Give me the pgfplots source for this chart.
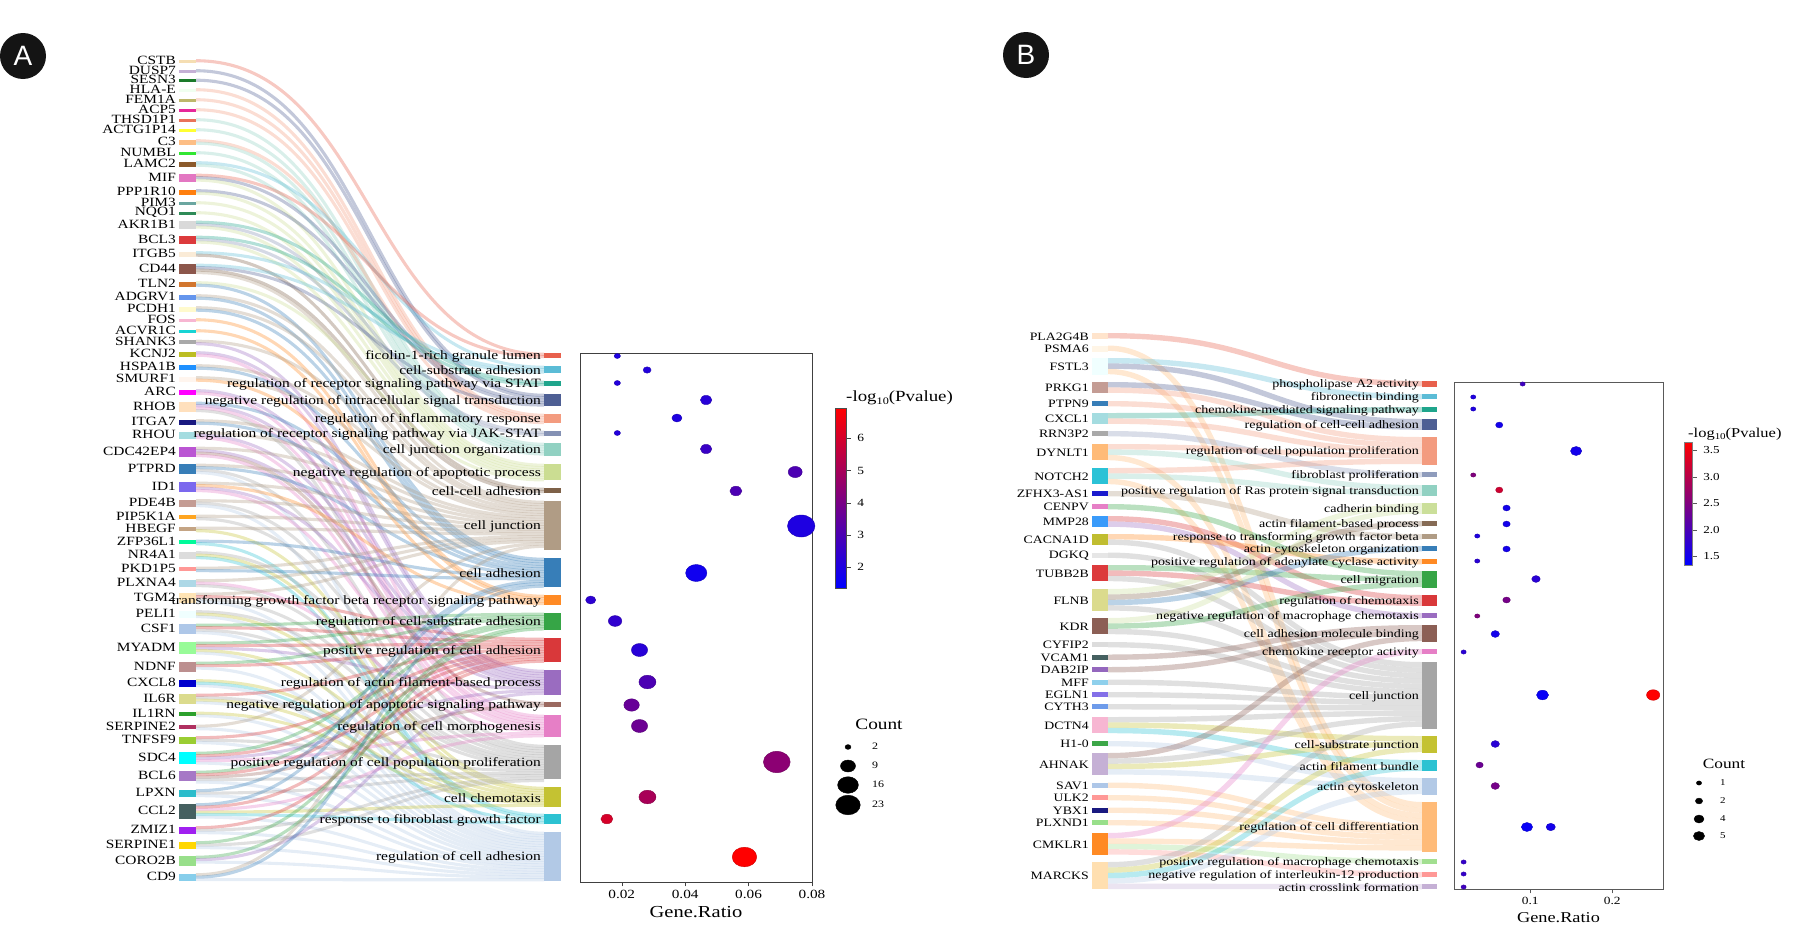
\documentclass[border=0pt]{standalone}
\usepackage{fontspec}
\usepackage{pgfplots}
\pgfplotsset{compat=1.18}
\setmainfont[FakeStretch=1.22]{Liberation Serif}
\newfontfamily\badgefont{Liberation Sans}
\pgfplotsset{colormap={bwr}{rgb255=(0,0,255) rgb255=(255,0,0)}}
\pgfplotsset{/pgf/number format/assume math mode=true}

% two-point plot handler: horizontal tangents at both ends (sankey link)
\makeatletter
\newif\ifribfirst
\def\ribpoint#1{%
  \pgf@process{#1}%
  \ifribfirst
    \global\ribfirstfalse
    \xdef\ribx{\the\pgf@x}\xdef\riby{\the\pgf@y}%
    \pgfpathmoveto{\pgfqpoint{\pgf@x}{\pgf@y}}%
  \else
    \pgf@xa=\pgf@x \pgf@ya=\pgf@y
    \pgf@xb=\ribx \advance\pgf@xb by \pgf@xa \pgf@xb=.5\pgf@xb
    \edef\ribmx{\the\pgf@xb}\edef\ribex{\the\pgf@xa}\edef\ribey{\the\pgf@ya}%
    \pgfpathcurveto{\pgfqpoint{\ribmx}{\riby}}{\pgfqpoint{\ribmx}{\ribey}}{\pgfqpoint{\ribex}{\ribey}}%
  \fi}
\pgfdeclareplothandler{\ribhandler}{}{start={\global\ribfirsttrue},point macro=\ribpoint,jump={\global\ribfirsttrue},end={}}
\tikzset{ribbon curve/.code={\def\tikz@plot@handler{\ribhandler}}}
\makeatother

% term: id, top, height, colour, label
\newcommand\setterm[5]{%
  \expandafter\xdef\csname tp\curpanel#1\endcsname{#2}%
  \definecolor{t\curpanel#1}{HTML}{#4}}
\newcommand\drawterm[5]{%
  \pgfmathsetmacro\yc{#2+#3/2}%
  \edef\doit{\noexpand\addplot[color=t\curpanel#1,line width=#3pt,forget plot] coordinates {(\tl,\yc) (\tr,\yc)};}\doit
  \edef\doit{\noexpand\node[anchor=east,inner sep=0pt,font=\noexpand\fontsize{\tfs}{13}\noexpand\selectfont] at (axis cs:\tlab,\yc+\tdy) {\unexpanded{#5}};}\doit}
% running stack of one link
\newcommand\lk[1]{%
  \pgfmathsetmacro\ya{\gy+\lw/2}%
  \pgfmathsetmacro\yb{\csname tp\curpanel#1\endcsname+\lw/2}%
  \pgfmathsetmacro\ga{\gy+\lw}%
  \global\let\gy\ga
  \pgfmathsetmacro\gb{\csname tp\curpanel#1\endcsname+\lw}%
  \expandafter\xdef\csname tp\curpanel#1\endcsname{\gb}%
  \edef\doit{\noexpand\addplot[/tikz/ribbon curve,color=t\curpanel#1,line width=\lwd pt,opacity=.34,forget plot] coordinates {(\gr,\ya) (\tl,\yb)};}\doit}
% gene: label, centre, height, colour, terms
\newcommand\gene[5]{%
  \xglobal\definecolor{h#4}{HTML}{#4}%
  \pgfmathsetmacro\ga{#2-#3/2}\global\let\gy\ga
  \pgfplotsforeachungrouped \tid in {#5}{\lk{\tid}}%
  \addplot[color=h#4,line width=#3pt,forget plot] coordinates {(\gl,#2) (\gr,#2)};
  \edef\doit{\noexpand\node[anchor=east,inner sep=0pt,font=\noexpand\fontsize{\gfs}{13}\noexpand\selectfont] at (axis cs:\glab,#2+\gdy) {\unexpanded{#1}};}\doit}

\newcommand\termsA{%
\term{1}{353}{5}{E8604C}{ficolin-1-rich granule lumen}
\term{2}{366}{7}{5BBCD6}{cell-substrate adhesion}
\term{3}{381}{5}{1FA58C}{regulation of receptor signaling pathway via STAT}
\term{4}{394}{12}{4E5F94}{negative regulation of intracellular signal transduction}
\term{5}{414}{9}{F39B7F}{regulation of inflammatory response}
\term{6}{431}{5}{8491B4}{regulation of receptor signaling pathway via JAK-STAT}
\term{7}{443}{13}{91D1C2}{cell junction organization}
\term{8}{464}{16}{CBDD92}{negative regulation of apoptotic process}
\term{9}{488}{5}{7E6148}{cell-cell adhesion}
\term{10}{501}{49}{B09C85}{cell junction}
\term{11}{558}{29}{377EB8}{cell adhesion}
\term{12}{595}{10}{FF8A24}{transforming growth factor beta receptor signaling pathway}
\term{13}{613}{17}{36A546}{regulation of cell-substrate adhesion}
\term{14}{638}{24}{D9383A}{positive regulation of cell adhesion}
\term{15}{670}{25}{9A6CC0}{regulation of actin filament-based process}
\term{16}{702}{5}{9B6960}{negative regulation of apoptotic signaling pathway}
\term{17}{715}{22}{E67FC6}{regulation of cell morphogenesis}
\term{18}{745}{34}{A5A5A5}{positive regulation of cell population proliferation}
\term{19}{787}{20}{C4C232}{cell chemotaxis}
\term{20}{814}{10}{2CC2D2}{response to fibroblast growth factor}
\term{21}{832}{49}{B2C9E6}{regulation of cell adhesion}}

\newcommand\termsB{%
\term{1}{381}{6}{E8604C}{phospholipase A2 activity}
\term{2}{394}{5}{5BBCD6}{fibronectin binding}
\term{3}{407}{5}{1FA58C}{chemokine-mediated signaling pathway}
\term{4}{419}{11}{4E5F94}{regulation of cell-cell adhesion}
\term{5}{437}{28}{F39B7F}{regulation of cell population proliferation}
\term{6}{472}{5}{8F9CBC}{fibroblast proliferation}
\term{7}{485}{11}{91D1C2}{positive regulation of Ras protein signal transduction}
\term{8}{503}{11}{CBDF9A}{cadherin binding}
\term{9}{521}{5}{866B55}{actin filament-based process}
\term{10}{534}{5}{B09C85}{response to transforming growth factor beta}
\term{11}{546}{5}{377EB8}{actin cytoskeleton organization}
\term{12}{559}{5}{FF8A24}{positive regulation of adenylate cyclase activity}
\term{13}{571}{17}{36A546}{cell migration}
\term{14}{595}{11}{D9383A}{regulation of chemotaxis}
\term{15}{613}{5}{9A6CC0}{negative regulation of macrophage chemotaxis}
\term{16}{625}{17}{8C5F55}{cell adhesion molecule binding}
\term{17}{649}{5}{E67FC6}{chemokine receptor activity}
\term{18}{662}{67}{A5A5A5}{cell junction}
\term{19}{736}{17}{C4C232}{cell-substrate junction}
\term{20}{760}{11}{2CC2D2}{actin filament bundle}
\term{21}{778}{17}{B2C9E6}{actin cytoskeleton}
\term{22}{802}{50}{FFBB78}{regulation of cell differentiation}
\term{23}{859}{5}{A2DF90}{positive regulation of macrophage chemotaxis}
\term{24}{872}{5}{FF9896}{negative regulation of interleukin-12 production}
\term{25}{884}{5}{C5B0D5}{actin crosslink formation}}

\begin{document}
\begin{tikzpicture}
\useasboundingbox (0,0) rectangle (1799pt,945pt);
\begin{axis}[at={(0pt,0pt)},anchor=south west,width=1799pt,height=945pt,scale only axis,
  xmin=0,xmax=1799,ymin=0,ymax=945,y dir=reverse,axis lines=none,clip=false]

% ---- panel A
\def\curpanel{A}\let\term\setterm\termsA
\def\lw{2.45}\def\lwd{3.1}\def\gl{179}\def\gr{196}\def\glab{176}\def\tl{544}\def\tr{561}\def\tlab{541}
\def\gfs{12.6}\def\tfs{12.7}\def\gdy{-1}\def\tdy{1}
\gene{CSTB}{61}{3}{F5DEB3}{1}
\gene{DUSP7}{71}{3}{C5B0D5}{4}
\gene{SESN3}{80.5}{3}{1B7A2A}{4}
\gene{HLA-E}{90}{3}{F0FFF0}{5}
\gene{FEM1A}{100}{3}{BDB76B}{5}
\gene{ACP5}{110}{3}{E6289A}{5}
\gene{THSD1P1}{120}{3}{E9735A}{7}
\gene{ACTG1P14}{130}{3}{FFFF33}{7}
\gene{C3}{142}{5}{FDBE85}{5,7}
\gene{NUMBL}{153}{3}{32E632}{7}
\gene{LAMC2}{164}{5}{8B5A2B}{2,7}
\gene{MIF}{178}{8}{E377C2}{1,4,8}
\gene{PPP1R10}{192}{5}{FF7F0E}{4,8}
\gene{PIM3}{203}{3}{6BA6A0}{8}
\gene{NQO1}{213}{3}{2E8B57}{8}
\gene{AKR1B1}{225}{8}{D9D9D9}{3,6,8}
\gene{BCL3}{240}{8}{DC3A3C}{3,6,8}
\gene{ITGB5}{254}{5}{FAEBD7}{2,9}
\gene{CD44}{269}{10}{8C564B}{2,4,9,10}
\gene{TLN2}{284}{5}{D2762E}{8,11}
\gene{ADGRV1}{297}{5}{6495ED}{10,11}
\gene{PCDH1}{309}{5}{FFFACD}{10,11}
\gene{FOS}{320}{3}{F7B6D2}{12}
\gene{ACVR1C}{331}{3}{17D4D4}{12}
\gene{SHANK3}{342}{4}{A9A9A9}{10,15}
\gene{KCNJ2}{354}{5}{BCBD22}{15,17}
\gene{HSPA1B}{367}{5}{1E90FF}{10,11}
\gene{SMURF1}{379}{5}{FFF5EE}{10,12}
\gene{ARC}{392}{5}{FF00FF}{15,17}
\gene{RHOB}{407}{10}{FFE0BD}{11,15,17,18}
\gene{ITGA7}{422}{5}{191980}{10,11}
\gene{RHOU}{435}{7}{A4DCE0}{10,15,17}
\gene{CDC42EP4}{452}{10}{BA55D3}{10,15,16,17}
\gene{PTPRD}{469}{10}{377EB8}{10,11,18,21}
\gene{ID1}{487}{10}{7B68EE}{10,12,15,17}
\gene{PDE4B}{503}{7}{C49C94}{10,18,21}
\gene{PIP5K1A}{517}{4}{FFA520}{10,18}
\gene{HBEGF}{529}{4}{C4A484}{10,19}
\gene{ZFP36L1}{542}{4}{00FA9A}{11,20}
\gene{NR4A1}{555}{7}{DCDCDC}{18,19,20}
\gene{PKD1P5}{569}{4}{FF9896}{10,11}
\gene{PLXNA4}{583}{7}{ADD8E6}{10,17,18}
\gene{TGM2}{598}{10}{FFE4B5}{10,14,18,21}
\gene{PELI1}{614}{7}{F0FFFF}{18,19,21}
\gene{CSF1}{629}{10}{AEC7E8}{13,14,18,21}
\gene{MYADM}{648}{12}{98FB98}{13,14,15,19,21}
\gene{NDNF}{667}{10}{BC8F8F}{13,14,21}
\gene{CXCL8}{683}{7}{0000CD}{19,20,21}
\gene{IL6R}{699}{10}{DBDB8D}{14,18,19,21}
\gene{IL1RN}{714}{4}{2CA02C}{19,21}
\gene{SERPINE2}{727}{4}{B03060}{10,21}
\gene{TNFSF9}{740}{7}{9ACD32}{14,18,21}
\gene{SDC4}{758}{12}{00FFFF}{13,14,15,17,21}
\gene{BCL6}{776}{10}{A678C6}{13,14,16,18,21}
\gene{LPXN}{793}{7}{2BBCCB}{11,18,21}
\gene{CCL2}{811}{15}{456060}{11,14,17,19,20,21}
\gene{ZMIZ1}{830}{7}{A020F0}{14,18,21}
\gene{SERPINE1}{845}{7}{FFD700}{13,18,21}
\gene{CORO2B}{861}{10}{98DF8A}{13,15,21}
\gene{CD9}{877}{7}{87CEEB}{10,11,21}
\let\term\drawterm\termsA

% ---- panel B
\def\curpanel{B}\let\term\setterm\termsB
\def\lw{5.4}\def\lwd{5.4}\def\gl{1092}\def\gr{1108}\def\glab{1089}\def\tl{1422}\def\tr{1437}\def\tlab{1419}
\def\gfs{11.3}\def\tfs{11.5}\def\gdy{0.5}\def\tdy{1}
\gene{PLA2G4B}{336}{6}{FFE4CC}{1}
\gene{PSMA6}{348.5}{6}{FFF5E6}{22}
\gene{FSTL3}{366.5}{17}{F0FFFF}{2,4,22}
\gene{PRKG1}{387.5}{11}{C49C94}{4,5}
\gene{PTPN9}{403.5}{5}{377EB8}{5}
\gene{CXCL1}{418.5}{11}{A4DCE0}{3,5}
\gene{RRN3P2}{433.5}{5}{A9A9A9}{6}
\gene{DYNLT1}{452}{16}{FFBB78}{5,7,22}
\gene{NOTCH2}{476}{16}{2BC2D6}{5,7,22}
\gene{ZFHX3-AS1}{493.5}{5}{1A1ACD}{10}
\gene{CENPV}{506.5}{5}{E67FC6}{13}
\gene{MMP28}{521.5}{11}{3A9BFA}{14,15}
\gene{CACNA1D}{539.5}{11}{C0BD30}{12,18}
\gene{DGKQ}{555}{5}{E6E6E6}{18}
\gene{TUBB2B}{573}{16}{DC3A3C}{13,14,18}
\gene{FLNB}{600}{22}{DBDB8D}{8,9,11,18}
\gene{KDR}{626}{16}{8C5F55}{8,13,18}
\gene{CYFIP2}{644.5}{5}{DCDCDC}{18}
\gene{VCAM1}{657}{5}{456060}{16}
\gene{DAB2IP}{669.5}{5}{9467BD}{16}
\gene{MFF}{682}{5}{8FD0EC}{18}
\gene{EGLN1}{694.5}{5}{8470E8}{18}
\gene{CYTH3}{706.5}{5}{6E9BEA}{18}
\gene{DCTN4}{725}{16}{F7B6D2}{18,19,20}
\gene{H1-0}{743.5}{5}{3CA648}{21}
\gene{AHNAK}{764}{22}{C5B0D5}{16,18,19,21}
\gene{SAV1}{785}{5}{AEC7E8}{22}
\gene{ULK2}{797.5}{5}{FF9896}{22}
\gene{YBX1}{810}{5}{191980}{22}
\gene{PLXND1}{822.5}{5}{98DF8A}{22}
\gene{CMKLR1}{844}{22}{FF8A24}{17,22,23,24}
\gene{MARCKS}{875.5}{27}{FFDFB0}{18,19,20,21,25}
\let\term\drawterm\termsB

% badges and count keys
\node[circle,fill=black!92,inner sep=0pt,minimum size=46pt,text=white,font=\badgefont\fontsize{28}{28}\selectfont] at (axis cs:23,56) {A};
\node[circle,fill=black!92,inner sep=0pt,minimum size=46pt,text=white,font=\badgefont\fontsize{28}{28}\selectfont] at (axis cs:1026,55) {B};

\node[font=\fontsize{15.8}{16}\selectfont] at (axis cs:879,724) {Count};
\addplot[only marks,mark=*,black,mark size=2.4,mark options={xscale=1.25},forget plot] coordinates {(848,747)};
\addplot[only marks,mark=*,black,mark size=6,mark options={xscale=1.25},forget plot] coordinates {(848,766)};
\addplot[only marks,mark=*,black,mark size=8.3,mark options={xscale=1.25},forget plot] coordinates {(848,785)};
\addplot[only marks,mark=*,black,mark size=9.8,mark options={xscale=1.25},forget plot] coordinates {(848,805)};
\node[anchor=west,inner sep=0pt,font=\fontsize{9.8}{10}\selectfont] at (axis cs:872,746) {2};
\node[anchor=west,inner sep=0pt,font=\fontsize{9.8}{10}\selectfont] at (axis cs:872,765) {9};
\node[anchor=west,inner sep=0pt,font=\fontsize{9.8}{10}\selectfont] at (axis cs:872,784) {16};
\node[anchor=west,inner sep=0pt,font=\fontsize{9.8}{10}\selectfont] at (axis cs:872,804) {23};

\node[font=\fontsize{14.2}{15}\selectfont] at (axis cs:1724,764) {Count};
\addplot[only marks,mark=*,black,mark size=2.1,mark options={xscale=1.25},forget plot] coordinates {(1699,783)};
\addplot[only marks,mark=*,black,mark size=2.9,mark options={xscale=1.25},forget plot] coordinates {(1699,801)};
\addplot[only marks,mark=*,black,mark size=4,mark options={xscale=1.25},forget plot] coordinates {(1699,819)};
\addplot[only marks,mark=*,black,mark size=4.5,mark options={xscale=1.25},forget plot] coordinates {(1699,836)};
\node[anchor=west,inner sep=0pt,font=\fontsize{9}{10}\selectfont] at (axis cs:1720,783) {1};
\node[anchor=west,inner sep=0pt,font=\fontsize{9}{10}\selectfont] at (axis cs:1720,801) {2};
\node[anchor=west,inner sep=0pt,font=\fontsize{9}{10}\selectfont] at (axis cs:1720,819) {4};
\node[anchor=west,inner sep=0pt,font=\fontsize{9}{10}\selectfont] at (axis cs:1720,836) {5};

\node[anchor=west,inner sep=0pt,font=\fontsize{15.5}{16}\selectfont] at (axis cs:846,398) {-log\raisebox{-2.5pt}{\fontsize{10}{10}\selectfont 10}(Pvalue)};
\node[anchor=west,inner sep=0pt,font=\fontsize{13.5}{14}\selectfont] at (axis cs:1688,434) {-log\raisebox{-2.5pt}{\fontsize{9}{9}\selectfont 10}(Pvalue)};
\end{axis}

% ---- dot plot A
\begin{axis}[at={(580pt,63pt)},anchor=south west,width=232pt,height=529pt,scale only axis,
  xmin=0.00683,xmax=0.08,ymin=353,ymax=882,y dir=reverse,ytick=\empty,
  xtick={0.02,0.04,0.06,0.08},xtick pos=bottom,tick align=outside,
  axis line style={draw=black!75,line width=.9pt},tick style={draw=black!75},
  scaled x ticks=false,
  xticklabel style={font=\fontsize{12.5}{13}\selectfont,/pgf/number format/.cd,fixed,fixed zerofill,precision=2},
  xlabel={Gene.Ratio},xlabel style={font=\fontsize{16.8}{17}\selectfont,yshift=-1pt},
  colormap name=bwr,point meta min=1.35,point meta max=6.94,
  colorbar,colorbar style={at={(parent axis.north east)},anchor=north west,xshift=15pt,yshift=-55pt,
    width=11pt,height=180pt,scale only axis,ytick={2,3,4,5,6},ytick pos=right,tick align=outside,
    axis line style={draw=black!70},
    yticklabel style={font=\fontsize{11}{12}\selectfont,xshift=3pt}}]
\addplot[scatter,only marks,mark=*,scatter src=explicit,
  every mark/.append style={xscale=1.25},
  visualization depends on={\thisrow{r}\as\perpointmarksize},
  scatter/@pre marker code/.append style={/tikz/mark size=\perpointmarksize}]
  table[x=x,y=y,meta=p]{
x y r p
0.0186 356 2.5 2.0
0.0280 370 3.2 2.1
0.0186 383 2.5 2.1
0.0466 400 4.6 2.2
0.0374 418 4.0 2.0
0.0186 433 2.5 2.1
0.0466 449 4.6 2.6
0.0747 472 5.6 3.0
0.0560 491 4.8 3.0
0.0766 526 11 2.0
0.0435 573 8.5 1.7
0.0102 600 4.0 2.3
0.0179 621 5.4 2.4
0.0256 650 6.5 2.2
0.0281 682 6.8 3.0
0.0231 705 6.2 3.6
0.0256 726 6.5 3.7
0.0689 762 10.7 4.4
0.0281 797 6.8 5.0
0.0153 819 4.8 6.0
0.0587 857 9.8 6.9
};
\end{axis}

% ---- dot plot B
\begin{axis}[at={(1454pt,56pt)},anchor=south west,width=209pt,height=507pt,scale only axis,
  xmin=0.007,xmax=0.262,ymin=382,ymax=889,y dir=reverse,ytick=\empty,
  xtick={0.1,0.2},xtick pos=bottom,tick align=outside,
  axis line style={draw=black!65,line width=.9pt},tick style={draw=black!65},
  scaled x ticks=false,
  xticklabel style={font=\fontsize{11}{12}\selectfont,/pgf/number format/.cd,fixed,fixed zerofill,precision=1},
  xlabel={Gene.Ratio},xlabel style={font=\fontsize{15}{16}\selectfont,yshift=-1pt},
  colormap name=bwr,point meta min=1.33,point meta max=3.66,
  colorbar,colorbar style={at={(parent axis.north east)},anchor=north west,xshift=13pt,yshift=-60pt,
    width=8pt,height=123pt,scale only axis,ytick={1.5,2,2.5,3,3.5},ytick pos=right,tick align=outside,
    axis line style={draw=black!50},
    yticklabel style={font=\fontsize{10.7}{11}\selectfont,xshift=3pt,/pgf/number format/.cd,fixed,fixed zerofill,precision=1}}]
\addplot[scatter,only marks,mark=*,scatter src=explicit,
  every mark/.append style={xscale=1.25},
  visualization depends on={\thisrow{r}\as\perpointmarksize},
  scatter/@pre marker code/.append style={/tikz/mark size=\perpointmarksize}]
  table[x=x,y=y,meta=p]{
x y r p
0.0907 384 2.1 1.9
0.0305 397 2.1 1.6
0.0305 409 2.1 1.6
0.0622 425 2.9 1.5
0.1560 451 4.5 1.5
0.0305 475 2.1 2.5
0.0622 490 2.9 3.2
0.0711 508 2.9 1.5
0.0711 524 2.9 1.5
0.0354 536 2.1 1.6
0.0711 549 2.9 1.5
0.0354 561 2.1 1.7
0.1070 579 3.4 1.7
0.0711 600 3.0 2.4
0.0354 616 2.1 2.5
0.0573 634 3.4 1.5
0.0187 652 2.1 1.7
0.1150 695 4.8 1.4
0.2500 695 5.3 3.66
0.0573 744 3.4 1.7
0.0382 765 2.9 2.3
0.0573 786 3.4 2.4
0.0960 827 4.5 1.4
0.1250 827 3.7 1.5
0.0187 862 2.1 1.8
0.0187 874 2.1 1.8
0.0187 887 2.1 1.9
};
\end{axis}
\end{tikzpicture}
\end{document}
